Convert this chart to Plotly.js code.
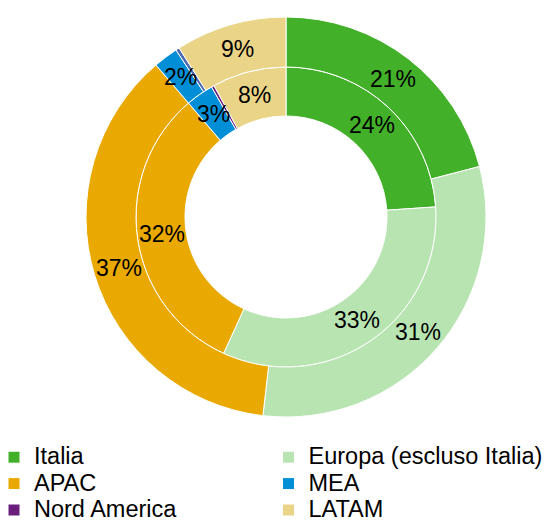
<!DOCTYPE html>
<html>
<head>
<meta charset="utf-8">
<script src="https://cdn.plot.ly/plotly-3.0.1.min.js"></script>
<style>html,body{margin:0;padding:0;background:#fff;}#chart{width:547px;height:524px;}</style>
</head>
<body>
<div id="chart"></div>
<script>
const regions = ['Italia', 'Europa (escluso Italia)', 'APAC', 'MEA', 'Nord America', 'LATAM'];
const innerValues = [24, 33, 32, 3, 0.3, 8];
const outerValues = [21, 31, 37, 2, 0.3, 9];
const innerColors = ['#43B02A', '#B8E4B2', '#EAA900', '#008FD6', '#6B1F7C', '#EAD487'];
const outerColors = ['#43B02A', '#B8E4B2', '#EAA900', '#008FD6', '#4A6BB0', '#EAD487'];

// geometry (pixels)
const W = 547, H = 524;
const CX = 286, CY = 217;
const R_OUT = 200, R_MID = 150, R_IN = 101;
const FONT = 'Liberation Sans, Arial, sans-serif';

function domainFor(r) {
  return {x: [(CX - r) / W, (CX + r) / W], y: [1 - (CY + r) / H, 1 - (CY - r) / H]};
}

function labelAnnotations(vals, rA, rB) {
  const total = vals.reduce((a, b) => a + b, 0);
  const r = (rA + rB) / 2;
  let cum = 0;
  const out = [];
  vals.forEach(v => {
    const th = 2 * Math.PI * (cum + v / 2) / total;
    cum += v;
    if (v < 1) return;
    out.push({
      xref: 'paper', yref: 'paper',
      x: (CX + r * Math.sin(th)) / W,
      y: 1 - (CY - r * Math.cos(th)) / H,
      xanchor: 'center', yanchor: 'middle',
      text: Math.round(v) + '%',
      showarrow: false,
      font: {family: FONT, size: 23, color: '#000'}
    });
  });
  return out;
}

const legendLabels = regions.map(s => '<span style="font-size:23.5px">' + s + '</span>');

const common = {
  type: 'pie',
  labels: legendLabels,
  sort: false,
  direction: 'clockwise',
  rotation: 0,
  textinfo: 'none',
  hoverinfo: 'label+value'
};

const data = [
  Object.assign({}, common, {
    values: innerValues,
    hole: R_IN / R_MID,
    domain: domainFor(R_MID),
    marker: {colors: innerColors, line: {color: '#fff', width: 1}}
  }),
  Object.assign({}, common, {
    values: outerValues,
    hole: R_MID / R_OUT,
    domain: domainFor(R_OUT),
    marker: {colors: outerColors, line: {color: '#fff', width: 1}},
    showlegend: false
  })
];

const layout = {
  width: W,
  height: H,
  margin: {l: 0, r: 0, t: 0, b: 0, autoexpand: false},
  paper_bgcolor: '#fff',
  font: {family: FONT, size: 18, color: '#000'},
  showlegend: true,
  annotations: labelAnnotations(outerValues, R_MID, R_OUT).concat(labelAnnotations(innerValues, R_IN, R_MID)),
  legend: {
    orientation: 'h',
    x: 0,
    xanchor: 'left',
    y: -5 / H,
    yanchor: 'bottom',
    entrywidth: 235.5,
    entrywidthmode: 'pixels',
    indentation: -6,
    traceorder: 'normal',
    bgcolor: 'rgba(0,0,0,0)',
    font: {family: FONT, size: 18, color: '#000'}
  }
};

Plotly.newPlot('chart', data, layout, {displayModeBar: false});
</script>
</body>
</html>
